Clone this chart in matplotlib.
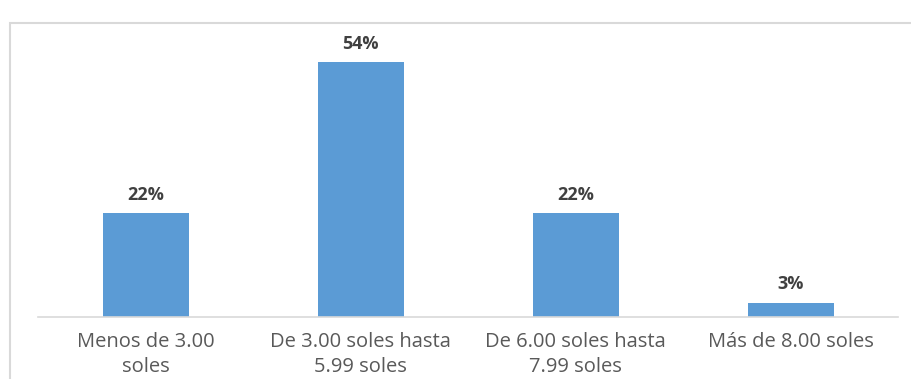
import matplotlib.pyplot as plt
from matplotlib.patches import Rectangle

# Datos del gráfico
categorias = ['Menos de 3.00\nsoles', 'De 3.00 soles hasta\n5.99 soles',
              'De 6.00 soles hasta\n7.99 soles', 'Más de 8.00 soles']
porcentajes = [22, 54, 22, 3]
etiquetas = ['22%', '54%', '22%', '3%']

plt.rcParams['font.family'] = ['Open Sans', 'DejaVu Sans']

fig = plt.figure(figsize=(9.12, 3.79), dpi=100)
ax = fig.add_axes([0.0417, 0.1644, 0.9433, 0.7466])

x = range(len(categorias))
barras = ax.bar(x, porcentajes, width=0.40, color='#5B9BD5')

for b, txt in zip(barras, etiquetas):
    ax.annotate(txt, (b.get_x() + b.get_width() / 2, b.get_height()),
                xytext=(0, 13), textcoords='offset points',
                ha='center', va='center', fontsize=13, fontweight='bold',
                color='#404040')

ax.set_xlim(-0.5, 3.5)
ax.set_ylim(0, 60)
ax.set_xticks(list(x))
ax.set_xticklabels(categorias, fontsize=14.5, color='#595959', linespacing=1.35)
ax.tick_params(axis='x', length=0, pad=11)
ax.set_yticks([])
for s in ['top', 'right', 'left']:
    ax.spines[s].set_visible(False)
ax.spines['bottom'].set_color('#d9d9d9')
ax.spines['bottom'].set_linewidth(1.2)

# Marco del área del gráfico
fig.patches.append(Rectangle((10 / 912, -0.1), 1.2, 1 - 23 / 379 + 0.1,
                             transform=fig.transFigure, fill=False,
                             edgecolor='#d9d9d9', linewidth=1.5))

fig.savefig('out.png', dpi=100)
